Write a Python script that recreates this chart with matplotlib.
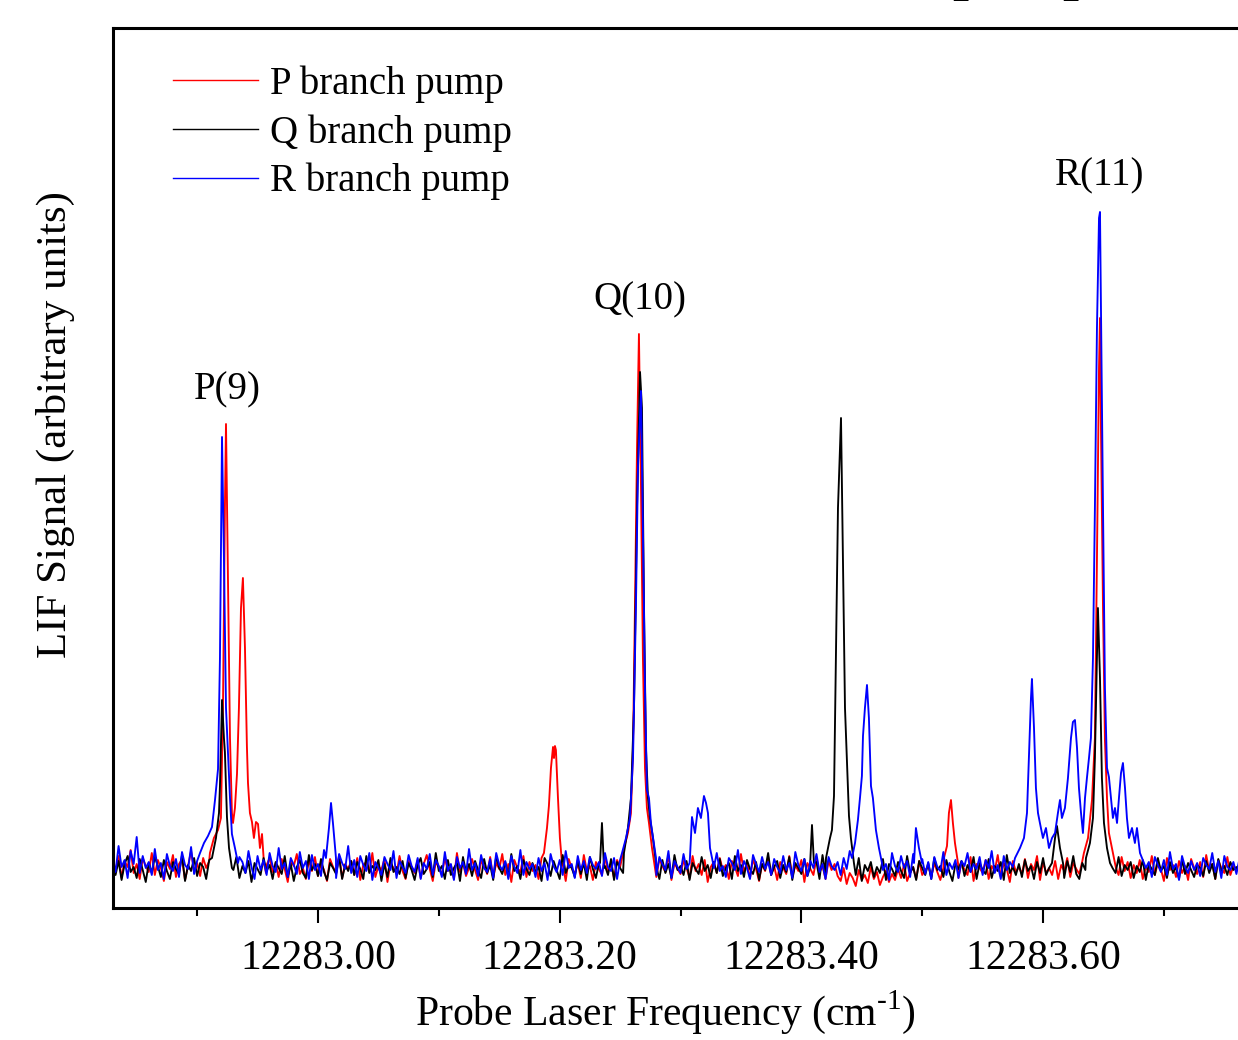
import numpy as np
import matplotlib
matplotlib.use('Agg')
import matplotlib.pyplot as plt
from matplotlib.ticker import FixedLocator, FormatStrFormatter

plt.rcParams['font.family'] = 'Liberation Serif'
plt.rcParams['mathtext.fontset'] = 'custom'
plt.rcParams['mathtext.rm'] = 'Liberation Serif'

# sampling grid of the probe scan (cm-1)
freq = np.linspace(12282.830, 12283.7625, 374)

# baseline (noise) readings, arbitrary units
p_base = [45,38,52,30,47,41,58,35,44,29,50,42,36,55,33,48,40,27,46,39,
          53,31,44,49,28,42,57,36,45,32,50,40,47,34,56,43,38,51,29,46,
          41,35,48,30,52,44,37,55,33,46,28,43,50,36,45,31,49,39,26,47,
          42,54,34,40,29,48,37,51,32,45,38,27,49,41,35,53,30,44,39,47,
          33,50,28,43,46,36,55,31,42,38,49,26,45,40,34,52,37,29,47,41,
          35,48,30,44,53,39,27,46,41,33,50,37,43,29,55,36,45,32,40,49,
          38,28,47,42,34,51,30,45,39,54,33,44,26,48,40,36,52,31,46,37,
          43,29,50,35,41,47,32,56,38,44,27,49,40,34,45,30,53,37,42,28,
          46,39,33,51,36,44,30,48,41,55,32,40,45,29,50,37,43,34,47,38,
          31,49,42,36,53,28,45,39,34,47,40,30,52,37,44,33,48,26,41,46,
          35,50,38,43,29,47,41,32,54,36,45,30,49,39,27,44,37,51,33,42,
          28,46,40,34,52,31,43,37,48,26,45,39,33,50,36,42,29,47,38,44,
          32,27,40,24,35,30,22,38,28,33,25,41,29,36,23,31,37,26,34,28,
          39,30,44,27,35,41,29,47,33,38,42,31,45,36,28,40,34,49,37,43,
          30,46,38,33,51,27,44,40,35,48,29,42,37,53,31,45,39,26,47,36,
          41,34,49,30,44,38,52,28,46,35,40,33,47,29,43,37,50,31,45,39,
          34,47,28,42,38,53,31,45,36,49,27,44,40,33,51,37,46,30,43,35,
          48,29,41,36,52,33,45,39,27,50,38,43,31,47,35,42,28,49,40,34,
          46,31,53,37,44,29,48,40,35,51,33,42,38,44]
q_base = [40,33,47,28,44,52,36,41,30,49,38,26,45,35,51,42,31,48,37,29,
          46,39,34,53,27,43,37,50,32,45,41,29,48,36,55,33,40,47,28,44,
          38,51,30,42,35,47,26,45,39,33,50,37,43,29,46,40,34,52,31,44,
          27,41,48,35,30,53,38,44,32,49,36,28,45,40,34,51,29,43,37,47,
          33,46,39,29,52,35,42,38,48,27,44,31,50,36,41,34,47,30,45,38,
          28,43,50,34,39,46,31,55,37,42,29,48,33,40,45,27,51,36,44,32,
          47,38,30,49,35,43,28,52,40,34,46,31,54,37,42,29,48,39,33,45,
          36,41,27,50,44,32,47,38,29,53,35,43,40,31,48,34,45,28,51,39,
          30,45,37,42,33,49,28,46,40,35,52,31,44,38,27,47,36,43,32,50,
          41,29,48,35,44,30,53,38,42,33,47,28,45,39,34,51,37,43,30,46,
          35,49,32,40,45,29,52,37,43,31,48,39,34,46,28,44,38,55,33,41,
          47,30,43,36,51,28,45,40,34,49,32,42,38,46,29,53,35,44,31,39,
          42,34,48,29,45,38,33,50,27,43,37,46,31,41,35,49,28,44,39,32,
          46,37,30,52,35,41,28,47,40,33,45,29,50,38,42,31,48,36,27,44,
          39,47,32,43,36,51,29,45,38,34,49,30,42,37,46,28,53,35,41,33,
          44,31,48,37,42,29,46,35,50,33,40,27,45,38,43,30,47,36,52,34,
          29,45,38,41,34,49,31,44,37,27,47,40,35,51,32,43,38,46,30,42,
          36,48,28,44,39,33,50,37,42,30,46,35,41,29,48,34,45,38,31,43,
          40,32,47,35,44,29,49,37,42,33,46,38,41,36]
r_base = [50,36,62,41,48,30,57,44,71,35,52,40,46,33,59,38,45,29,54,42,
          37,49,31,56,43,39,61,34,47,28,53,41,45,36,58,32,49,40,63,37,
          44,30,51,46,35,57,41,29,52,38,48,33,55,42,36,60,39,45,31,50,
          43,34,56,40,47,29,53,38,44,32,58,41,36,49,30,54,45,39,62,35,
          48,31,52,43,37,55,28,46,40,33,51,44,38,57,30,47,41,35,53,42,
          36,50,29,45,39,54,33,48,42,31,56,37,44,28,51,40,46,34,59,38,
          45,32,53,40,36,49,30,55,43,38,47,29,52,41,35,58,33,46,39,44,
          31,50,37,45,28,54,42,36,48,33,57,40,44,30,52,38,47,35,51,43,
          39,46,32,55,41,37,50,29,48,43,34,56,38,45,31,53,40,36,49,42,
          33,51,44,38,57,30,47,41,35,54,39,45,28,52,43,36,49,32,46,40,
          55,37,42,31,50,45,38,58,34,47,40,29,53,44,36,51,39,46,33,49,
          41,35,52,38,45,30,56,43,37,49,32,47,40,54,36,44,29,51,42,38,
          46,33,50,39,57,35,43,30,48,41,37,53,45,32,49,38,44,28,55,42,
          36,52,40,47,31,54,43,38,49,34,46,29,51,41,37,56,33,45,39,48,
          30,47,42,55,36,44,39,51,33,48,40,57,35,43,29,52,38,46,41,34,
          53,37,45,31,50,42,36,48,28,55,40,44,33,51,38,47,30,54,43,39,
          46,32,52,39,44,36,57,41,34,49,30,47,43,38,53,35,45,29,50,42,
          37,54,40,46,31,51,43,36,48,33,56,39,44,28,52,41,35,47,38,45,
          32,50,43,39,55,36,47,30,52,41,38,46,34,49]

# resonance lines: (frequencies, signal)
p_peaks = [
    ([12282.9106, 12282.9139, 12282.9173, 12282.9197, 12282.9214, 12282.9230, 12282.9239,
      12282.9255, 12282.9272, 12282.9288, 12282.9297, 12282.9313, 12282.9330, 12282.9346,
      12282.9363, 12282.9379, 12282.9396, 12282.9412, 12282.9421, 12282.9437, 12282.9454,
      12282.9470, 12282.9487, 12282.9504, 12282.9520, 12282.9537, 12282.9553, 12282.9570],
     [55, 70, 78, 90, 200, 400, 484, 330, 170, 95, 85, 100, 134, 200,
      300, 330, 260, 162, 125, 95, 86, 70, 86, 84, 60, 74, 45, 35]),
    ([12283.1870, 12283.1895, 12283.1911, 12283.1928, 12283.1945, 12283.1953, 12283.1961,
      12283.1969, 12283.1986, 12283.2002, 12283.2019],
     [55, 80, 102, 140, 161, 150, 162, 158, 110, 70, 45]),
    ([12283.2532, 12283.2565, 12283.2590, 12283.2607, 12283.2623, 12283.2640, 12283.2656,
      12283.2673, 12283.2689, 12283.2706, 12283.2722, 12283.2739, 12283.2764, 12283.2789],
     [60, 75, 95, 160, 300, 460, 574, 420, 250, 140, 100, 85, 60, 40]),
    ([12283.5180, 12283.5205, 12283.5221, 12283.5238, 12283.5254, 12283.5271, 12283.5296],
     [50, 62, 95, 108, 85, 65, 45]),
    ([12283.6338, 12283.6372, 12283.6405, 12283.6429, 12283.6446, 12283.6463, 12283.6471,
      12283.6479, 12283.6496, 12283.6512, 12283.6529, 12283.6545, 12283.6570, 12283.6603],
     [55, 70, 108, 170, 350, 540, 590, 480, 300, 168, 110, 75, 60, 40]),
]
q_peaks = [
    ([12282.9123, 12282.9156, 12282.9181, 12282.9189, 12282.9206, 12282.9222, 12282.9230,
      12282.9247, 12282.9264, 12282.9288],
     [50, 70, 95, 122, 208, 170, 156, 91, 60, 40]),
    ([12283.2334, 12283.2350, 12283.2367], [45, 85, 40]),
    ([12283.2532, 12283.2565, 12283.2590, 12283.2615, 12283.2640, 12283.2665, 12283.2681,
      12283.2698, 12283.2714, 12283.2731, 12283.2747, 12283.2772, 12283.2797],
     [55, 80, 110, 200, 400, 536, 500, 300, 160, 110, 90, 70, 45]),
    ([12283.4071, 12283.4088, 12283.4104], [40, 83, 45]),
    ([12283.4204, 12283.4237, 12283.4253, 12283.4270, 12283.4286, 12283.4303, 12283.4328,
      12283.4344, 12283.4361, 12283.4377, 12283.4394, 12283.4410, 12283.4435],
     [50, 70, 78, 112, 250, 400, 490, 350, 200, 148, 92, 70, 45]),
    ([12283.6074, 12283.6099, 12283.6115, 12283.6140, 12283.6165], [45, 70, 82, 60, 45]),
    ([12283.6355, 12283.6388, 12283.6413, 12283.6429, 12283.6446, 12283.6454, 12283.6471,
      12283.6487, 12283.6504, 12283.6529, 12283.6554],
     [50, 65, 90, 150, 250, 300, 230, 130, 85, 60, 45]),
]
r_peaks = [
    ([12282.9024, 12282.9057, 12282.9090, 12282.9123, 12282.9148, 12282.9173, 12282.9189,
      12282.9206, 12282.9222, 12282.9239, 12282.9255, 12282.9272, 12282.9288, 12282.9313,
      12282.9338],
     [55, 65, 72, 81, 108, 139, 250, 471, 350, 200, 156, 110, 74, 60, 45]),
    ([12283.0066, 12283.0091, 12283.0108, 12283.0124, 12283.0149], [50, 80, 105, 85, 50]),
    ([12283.2516, 12283.2549, 12283.2582, 12283.2607, 12283.2631, 12283.2648, 12283.2673,
      12283.2689, 12283.2706, 12283.2722, 12283.2739, 12283.2755, 12283.2772, 12283.2797],
     [55, 70, 90, 150, 300, 440, 517, 380, 220, 118, 110, 85, 71, 50]),
    ([12283.3078, 12283.3095, 12283.3120, 12283.3144, 12283.3169, 12283.3194, 12283.3211,
      12283.3227, 12283.3244, 12283.3269],
     [50, 91, 75, 100, 90, 112, 105, 95, 60, 45]),
    ([12283.4419, 12283.4444, 12283.4468, 12283.4485, 12283.4501, 12283.4510, 12283.4526,
      12283.4543, 12283.4559, 12283.4576, 12283.4592, 12283.4617, 12283.4642, 12283.4667],
     [50, 65, 88, 110, 132, 172, 200, 223, 190, 122, 110, 78, 60, 45]),
    ([12283.4932, 12283.4948, 12283.4973, 12283.4998], [45, 80, 60, 45]),
    ([12283.5768, 12283.5809, 12283.5842, 12283.5867, 12283.5883, 12283.5900, 12283.5908,
      12283.5925, 12283.5941, 12283.5958, 12283.5974, 12283.5999, 12283.6024, 12283.6049,
      12283.6074, 12283.6099, 12283.6123, 12283.6140, 12283.6156, 12283.6181, 12283.6206,
      12283.6231, 12283.6247, 12283.6264, 12283.6281, 12283.6297, 12283.6314, 12283.6330,
      12283.6347, 12283.6363, 12283.6380, 12283.6396, 12283.6413, 12283.6429, 12283.6446,
      12283.6463, 12283.6471, 12283.6479, 12283.6496, 12283.6512, 12283.6529, 12283.6545,
      12283.6562, 12283.6578, 12283.6595, 12283.6612, 12283.6628, 12283.6645, 12283.6661,
      12283.6678, 12283.6694, 12283.6711, 12283.6736, 12283.6760, 12283.6777, 12283.6802,
      12283.6835],
     [50, 60, 70, 95, 150, 210, 229, 180, 120, 95, 85, 70, 80, 60, 70, 75, 95, 108, 90,
      100, 130, 170, 186, 188, 160, 120, 95, 75, 110, 130, 150, 170, 250, 400, 580, 690,
      696, 600, 400, 220, 140, 131, 110, 90, 100, 85, 110, 135, 145, 120, 90, 70, 80, 65,
      80, 55, 45]),
]

labels = ['P branch pump', 'Q branch pump', 'R branch pump']
colors = ['#ff0000', '#000000', '#0000ff']
line_names = ['P(9)', 'Q(10)', 'R(11)']
line_pos = [12282.9247, 12283.2665, 12283.6471]
line_lab_y = [518, 608, 732]
tick_vals = [12283.0, 12283.2, 12283.4, 12283.6]
minor_vals = [12282.9, 12283.1, 12283.3, 12283.5, 12283.7]


def merge(base, peaks):
    """подставляем пики в шумовую базовую линию"""
    x = freq.copy()
    y = np.array(base, dtype=float)
    keep = np.ones(len(x), dtype=bool)
    for px, py in peaks:
        keep &= ~((x >= px[0]) & (x <= px[-1]))
    xs = np.concatenate([x[keep]] + [np.array(p[0]) for p in peaks])
    ys = np.concatenate([y[keep]] + [np.array(p[1], dtype=float) for p in peaks])
    order = np.argsort(xs)
    return xs[order], ys[order]


fig = plt.figure(figsize=(12.38, 10.40), dpi=100)
ax = fig.add_axes([113 / 1238, 132 / 1040, 1132 / 1238, 880 / 1040])

for base, peaks, lab, col in zip([p_base, q_base, r_base], [p_peaks, q_peaks, r_peaks], labels, colors):
    xs, ys = merge(base, peaks)
    ax.plot(xs, ys, color=col, lw=1.35, label=lab)

for name, xp, yp in zip(line_names, line_pos, line_lab_y):
    ax.text(xp, yp, name, fontsize=28, ha='center', va='center')

ax.set_xlim(12282.8304, 12283.7671)
ax.set_ylim(0, 880)
ax.set_yticks([])
ax.xaxis.set_major_locator(FixedLocator(tick_vals))
ax.xaxis.set_minor_locator(FixedLocator(minor_vals))
ax.xaxis.set_major_formatter(FormatStrFormatter('%.2f'))
ax.tick_params(axis='x', which='major', direction='out', length=11, width=1.5, labelsize=30, pad=11.5)
ax.tick_params(axis='x', which='minor', direction='out', length=5.5, width=1.5)
for sp in ax.spines.values():
    sp.set_linewidth(2.2)

ax.set_xlabel('Probe Laser Frequency (cm$^{\\mathregular{\u20101}}$)', fontsize=30)
ax.xaxis.set_label_coords((665 - 113) / 1132, -0.091)
ax.set_ylabel('LIF Signal (arbitrary units)', fontsize=31)
ax.yaxis.set_label_coords(-0.0512, 0.549)
ax.yaxis.label.set_va('center')

leg = ax.legend(loc='upper left', bbox_to_anchor=(0.053, 0.9575), frameon=False, fontsize=28,
                handlelength=2.19, handletextpad=0.31, labelspacing=0.29, borderpad=0, borderaxespad=0)
for h in leg.legend_handles:
    h.set_linewidth(1.0)

# обрезанный заголовок сверху
fig.text(952 / 1238, 1 + 11 / 1040, 'pump', fontsize=41, fontweight='bold', ha='left', va='baseline')

plt.savefig('out.png', dpi=100)
plt.close()
